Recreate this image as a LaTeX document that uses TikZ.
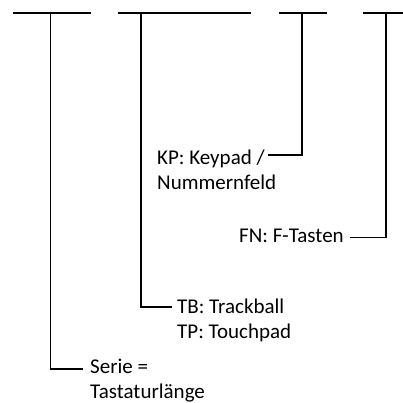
\documentclass[tikz,border=0pt]{standalone}
\usepackage{fontspec}
\setmainfont{Carlito}
\begin{document}
\begin{tikzpicture}[x=1pt,y=-1pt,
  bar/.style={line width=1.9pt},
  conn/.style={line width=1.9pt},
  lbl/.style={inner sep=0pt,anchor=base west,align=left,font=\fontsize{21}{25}\selectfont}]
\useasboundingbox (0,0) rectangle (403,403);
% labels (anchor = baseline of the last line)
\node[lbl] (kp) at (157,189.3) {KP: Keypad /\\Nummernfeld};
\node[lbl] (fn) at (239,242.5) {FN: F-Tasten};
\node[lbl] (tb) at (177,338.3) {TB: Trackball\\TP: Touchpad};
\node[lbl] (serie) at (90,398.3) {Serie =\\Tastaturlänge};
% top bars and their stems
\coordinate (t1) at (50.5,13);
\coordinate (t2) at (141,13);
\coordinate (t3) at (302,13);
\coordinate (t4) at (386,13);
\coordinate (kpend) at (268,155);
\draw[bar] (13,13) -- (91,13);
\draw[bar] (118,13) -- (251,13);
\draw[bar] (279,13) -- (327,13);
\draw[bar] (363,13) -- (405,13);
\draw[conn] (t1) |- ([xshift=-7pt,yshift=29pt]serie.base west);
\draw[conn] (t2) |- ([xshift=-5pt,yshift=31pt]tb.base west);
\draw[conn] (t3) |- (kpend);
\draw[conn] (t4) |- ([xshift=6pt,yshift=5pt]fn.base east);
\end{tikzpicture}
\end{document}
